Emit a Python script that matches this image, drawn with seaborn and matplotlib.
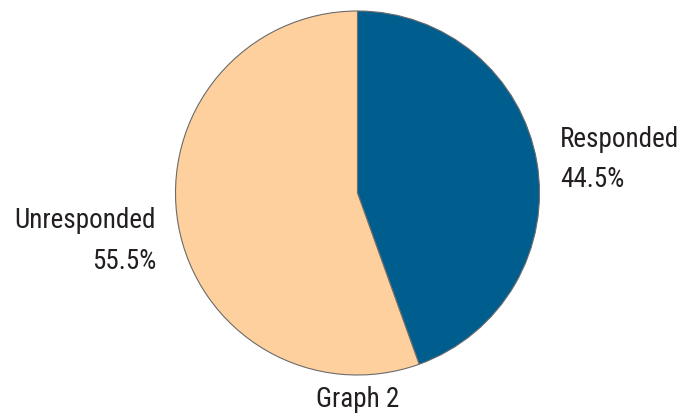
import matplotlib
matplotlib.use("Agg")
import matplotlib.pyplot as plt
from matplotlib import font_manager
from matplotlib.font_manager import FontProperties
import seaborn as sns

categories = ["Responded", "Unresponded"]
shares = [44.5, 55.5]
caption = "Graph 2"

sns.set_theme(style="white")
plt.rcParams["font.family"] = ["DejaVu Sans"]


def upright(f):
    name = f.fname.lower()
    return f.style == "normal" and "italic" not in name and "oblique" not in name


def narrow_font():
    """Pick an upright, regular-weight condensed sans-serif face if one is installed."""
    fonts = font_manager.fontManager.ttflist
    for wanted in ("Roboto Condensed", "Liberation Sans Narrow", "Open Sans Condensed"):
        cands = [f for f in fonts if f.name == wanted and upright(f)]
        cands.sort(key=lambda f: abs((f.weight if isinstance(f.weight, int) else 400) - 400))
        if cands:
            return cands[0].fname
    for f in fonts:
        if f.name == "DejaVu Sans" and f.stretch == "condensed" and upright(f) \
                and f.weight in (400, "normal"):
            return f.fname
    return None


path = narrow_font()
fs = 19.5
fp = FontProperties(fname=path, size=fs) if path else FontProperties(family="DejaVu Sans", stretch="condensed", size=fs)

colors = ["#005e8e", "#fed09e"]

W, H = 682, 414
fig = plt.figure(figsize=(W / 100, H / 100), dpi=100)
ax = fig.add_axes([0, 0, 1, 1])

ax.pie(shares, colors=colors, startangle=90, counterclock=False,
       center=(357.5, H - 194), radius=182,
       wedgeprops=dict(edgecolor="#6b6b6b", linewidth=0.8))

# pie() rescales the axes, so fix the pixel frame afterwards
ax.set_xlim(0, W)
ax.set_ylim(0, H)
ax.set_aspect("equal")
ax.axis("off")

ink = "#231f20"
ax.text(560, H - 147, categories[0], fontproperties=fp, color=ink, ha="left", va="baseline")
ax.text(560, H - 187, f"{shares[0]}%", fontproperties=fp, color=ink, ha="left", va="baseline")
ax.text(156, H - 228, categories[1], fontproperties=fp, color=ink, ha="right", va="baseline")
ax.text(156, H - 269, f"{shares[1]}%", fontproperties=fp, color=ink, ha="right", va="baseline")
ax.text(358, H - 407, caption, fontproperties=fp, color=ink, ha="center", va="baseline")

fig.savefig("out.png", dpi=100)
